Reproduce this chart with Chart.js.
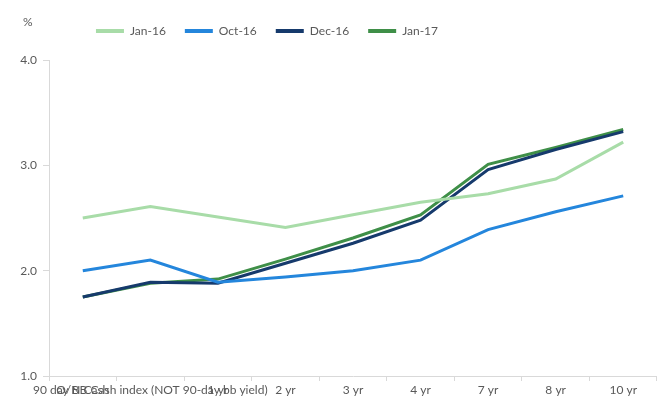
<!DOCTYPE html>
<html lang="en">
<head>
    <meta charset="UTF-8">
    <title>Yield curve</title>
    <script src="https://cdn.jsdelivr.net/npm/chart.js"></script>
    <style>
        html, body { margin: 0; padding: 0; background: #fff; }
        #wrap { width: 657px; height: 401px; }
    </style>
</head>
<body>
    <div id="wrap">
        <canvas id="grafico_curva"></canvas>
    </div>

<script>
    var categorias = ['O/N Cash', '90 day BB Cash index (NOT 90-day bb yield)', '1 yr', '2 yr', '3 yr', '4 yr', '7 yr', '8 yr', '10 yr']

    var jan16 = [2.50, 2.61, 2.51, 2.41, 2.53, 2.65, 2.73, 2.87, 3.22]
    var oct16 = [2.00, 2.10, 1.89, 1.94, 2.00, 2.10, 2.39, 2.56, 2.71]
    var dec16 = [1.75, 1.89, 1.88, 2.07, 2.26, 2.48, 2.96, 3.15, 3.32]
    var jan17 = [1.75, 1.88, 1.92, 2.11, 2.31, 2.53, 3.01, 3.17, 3.34]

    var ticks_y = [1.0, 2.0, 3.0, 4.0]

    var cinza = '#595959'
    var fonte = { family: 'Lato', size: 12 }

    // desenha o "%" em cima do eixo y
    var pluginPorcento = {
        id: 'porcento',
        afterLayout: function (chart) {
            // desloca a legenda pra esquerda e pra cima como no original
            chart.legend.right -= 123
            chart.legend.top -= 13
        },
        afterDraw: function (chart) {
            var ctx = chart.ctx
            ctx.save()
            ctx.fillStyle = cinza
            ctx.font = '12px Lato'
            ctx.textAlign = 'left'
            ctx.textBaseline = 'middle'
            ctx.fillText('%', 23, 22)
            ctx.restore()
        }
    }

    function linha(nome, dados, cor) {
        return {
            label: nome,
            data: dados,
            borderColor: cor,
            backgroundColor: cor,
            borderWidth: 3,
            pointRadius: 0,
            tension: 0,
            fill: false
        }
    }

    var ctx = document.getElementById('grafico_curva').getContext('2d')

    new Chart(ctx, {
        type: 'line',
        data: {
            labels: categorias,
            datasets: [
                linha('Jan-16', jan16, '#a8dca8'),
                linha('Oct-16', oct16, '#2486dc'),
                linha('Dec-16', dec16, '#163a6c'),
                linha('Jan-17', jan17, '#3f8f48')
            ]
        },
        plugins: [pluginPorcento],
        options: {
            responsive: true,
            maintainAspectRatio: false,
            animation: false,
            layout: { padding: { top: 19, right: 0, left: 0, bottom: 0 } },
            plugins: {
                legend: {
                    position: 'top',
                    labels: {
                        color: cinza,
                        font: fonte,
                        boxWidth: 28,
                        boxHeight: 4,
                        padding: 19,
                        generateLabels: function (chart) {
                            return chart.data.datasets.map(function (ds, i) {
                                return {
                                    text: ds.label,
                                    fillStyle: ds.borderColor,
                                    strokeStyle: ds.borderColor,
                                    lineWidth: 0,
                                    fontColor: cinza,
                                    datasetIndex: i,
                                    hidden: false
                                }
                            })
                        }
                    }
                },
                tooltip: { enabled: false }
            },
            scales: {
                x: {
                    offset: true,
                    border: { color: '#d9d9d9', width: 1 },
                    grid: {
                        offset: true,
                        drawOnChartArea: false,
                        color: '#d9d9d9',
                        tickLength: 5
                    },
                    ticks: {
                        color: cinza,
                        font: fonte,
                        autoSkip: false,
                        maxRotation: 0,
                        minRotation: 0,
                        padding: 2
                    },
                    afterFit: function (scale) { scale.height = 25 }
                },
                y: {
                    min: 1,
                    max: 4,
                    border: { color: '#d9d9d9', width: 1 },
                    grid: {
                        drawOnChartArea: false,
                        color: '#d9d9d9',
                        tickLength: 6
                    },
                    afterBuildTicks: function (scale) {
                        scale.ticks = ticks_y.map(function (v) { return { value: v } })
                    },
                    ticks: {
                        color: cinza,
                        font: fonte,
                        padding: 6,
                        callback: function (v) { return Number(v).toFixed(1) }
                    },
                    afterFit: function (scale) { scale.width = 49 }
                }
            }
        }
    });
</script>
</body>
</html>
